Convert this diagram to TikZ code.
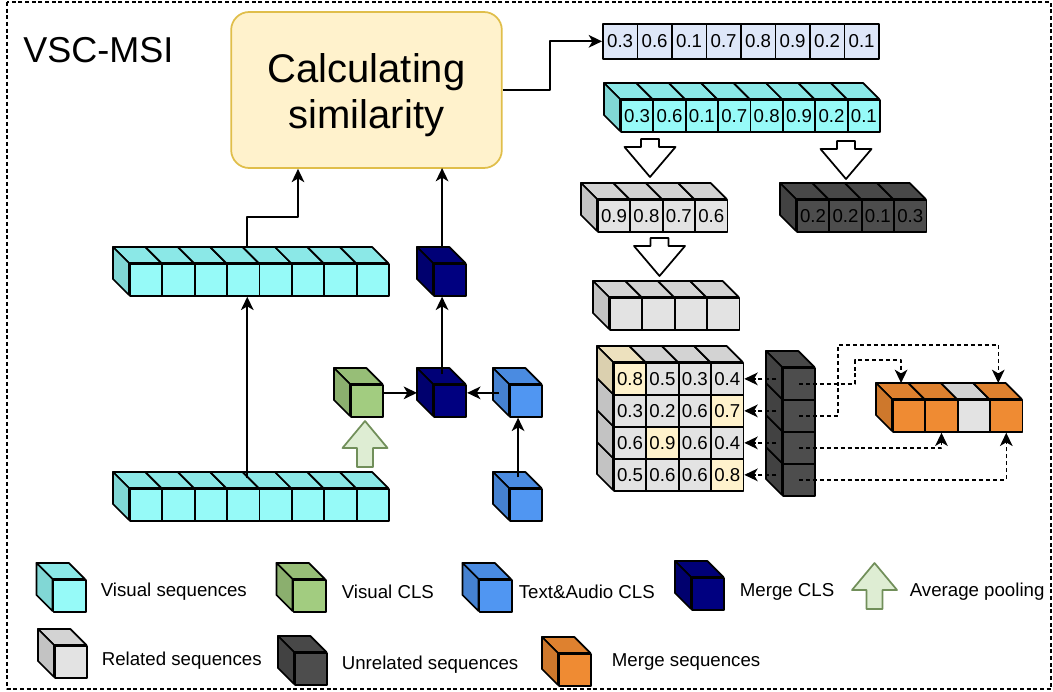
\documentclass[tikz,border=0pt]{standalone}
\usepackage{fontspec}
\setmainfont{Liberation Sans}
\usetikzlibrary{arrows.meta}

\definecolor{cy}{HTML}{96FAF8}
\definecolor{gr}{HTML}{A2CC80}
\definecolor{bl}{HTML}{5096F2}
\definecolor{nv}{HTML}{000080}
\definecolor{lg}{HTML}{E3E3E3}
\definecolor{dk}{HTML}{4D4D4D}
\definecolor{og}{HTML}{EF8B33}
\definecolor{yl}{HTML}{FFF2CC}
\definecolor{tv}{HTML}{DEE7F8}

% one cube, front face at (x,y)
\newcommand\onecube[4]{%
  \filldraw[fill=#4!93!black] (#2,#3) -- ++(-16,-16) -- ++(32.4,0) -- ++(16,16) -- cycle;
  \filldraw[fill=#4!86!black] (#2,#3) -- ++(-16,-16) -- ++(0,32) -- ++(16,16) -- cycle;
  \node[cell,fill=#4] (#1) at (#2,#3) {};
}
% a row of cubes, list of colour/text
\newcommand\cuberow[4]{%
  \foreach \cl/\tx [count=\i] in {#4}
    \filldraw[fill=\cl!93!black] ({#2+(\i-1)*32.4},#3) -- ++(-16,-16) -- ++(32.4,0) -- ++(16,16) -- cycle;
  \foreach \cl/\tx [count=\i] in {#4}{
    \ifnum\i=1 \filldraw[fill=\cl!86!black] (#2,#3) -- ++(-16,-16) -- ++(0,32) -- ++(16,16) -- cycle;\fi
    \node[cell,fill=\cl] (#1\i) at ({#2+(\i-1)*32.4},#3) {\tx};
  }
}
\newcommand\dnarrow[2]{%
  \filldraw[fill=white] (#1-9,#2) -- ++(18,0) -- ++(0,8) -- ++(16.5,0) -- (#1,#2+38)
    -- (#1-25.5,#2+8) -- ++(16.5,0) -- cycle;
}
\newcommand\poolarrow[2]{%
  \filldraw[pool] (#1-8,#2) -- ++(0,-19) -- ++(-14.5,0) -- (#1,#2-46) -- (#1+22.5,#2-19)
    -- ++(-14.5,0) -- ++(0,19) -- cycle;
}

\begin{document}
\begin{tikzpicture}[x=0.75pt,y=-0.75pt,line width=1.3pt,line join=round,
    cell/.style={draw,anchor=north west,minimum width=24.3pt,minimum height=24pt,
      inner sep=0pt,font=\fontsize{14}{16}\selectfont},
    vcell/.style={cell,fill=tv,minimum width=25.9pt,minimum height=26.2pt},
    arr/.style={line width=1.35pt,-{Stealth[length=10pt,width=9.5pt,inset=2.8pt]}},
    darr/.style={arr,line width=1.1pt,dash pattern=on 3pt off 2.2pt},
    pool/.style={fill=gr!35!white,draw=gr!70!black},
    legend/.style={anchor=west,inner sep=0pt,font=\fontsize{14}{17}\selectfont}]
  \useasboundingbox (0,0) rectangle (1053,692);
  \draw[line width=0.8pt,dash pattern=on 3pt off 2pt] (7,2) rectangle (1051,689);
  \node[anchor=base west,font=\fontsize{27}{30}\selectfont] (title) at (18,63) {VSC-MSI};

  % similarity
  \node[draw=yl!30!brown!70!yellow,fill=yl,rounded corners=13.5pt,minimum width=203pt,minimum height=117pt,
    align=center,font=\fontsize{30}{34.5}\selectfont] (calc) at (366.5,90) {\rule{0pt}{28.8pt}Calculating\\similarity};
  \foreach \v [count=\i] in {0.3,0.6,0.1,0.7,0.8,0.9,0.2,0.1}
    \node[vcell] (tv\i) at ({602+(\i-1)*34.5},23) {\v};
  \cuberow{sv}{620}{99}{cy/0.3,cy/0.6,cy/0.1,cy/0.7,cy/0.8,cy/0.9,cy/0.2,cy/0.1}
  \dnarrow{650}{139}
  \dnarrow{846}{141}
  \cuberow{rs}{597}{199}{lg/0.9,lg/0.8,lg/0.7,lg/0.6}
  \cuberow{us}{796}{199}{dk/0.2,dk/0.2,dk/0.1,dk/0.3}
  \dnarrow{659.5}{238}
  \cuberow{rp}{609}{297}{lg/{},lg/{},lg/{},lg/{}}

  % matrix, bottom row first
  \cuberow{m4}{613}{458}{lg/0.5,lg/0.6,lg/0.6,yl/0.8}
  \cuberow{m3}{613}{426}{lg/0.6,yl/0.9,lg/0.6,lg/0.4}
  \cuberow{m2}{613}{394}{lg/0.3,lg/0.2,lg/0.6,yl/0.7}
  \cuberow{m1}{613}{362}{yl/0.8,lg/0.5,lg/0.3,lg/0.4}
  \onecube{un4}{782}{463}{dk}
  \onecube{un3}{782}{431}{dk}
  \onecube{un2}{782}{399}{dk}
  \onecube{un1}{782}{367}{dk}
  \cuberow{ms}{892}{399}{og/{},og/{},lg/{},og/{}}

  % visual side
  \cuberow{vt}{129}{263}{cy/{},cy/{},cy/{},cy/{},cy/{},cy/{},cy/{},cy/{}}
  \cuberow{vb}{129}{488}{cy/{},cy/{},cy/{},cy/{},cy/{},cy/{},cy/{},cy/{}}
  \onecube{vcls}{350}{384}{gr}
  \onecube{mmid}{433}{384}{nv}
  \onecube{mtop}{433}{263}{nv}
  \onecube{tcls}{509}{384}{bl}
  \onecube{tbot}{509}{488}{bl}
  \poolarrow{365}{467}

  \draw[arr] (calc.east) -- ++(47,0) |- (tv1.west);
  \draw[arr] ([shift={(4,-10)}]vb4.north) -- ([shift={(4,0)}]vt4.south);
  \draw[arr] ([shift={(4,-16)}]vt4.north) -- ++(0,-30) -| ([shift={(-68.5,0)}]calc.south);
  \draw[arr] ([shift={(-8,-16)}]mtop.north) -- ++(0,-79);
  \draw[arr] ([shift={(-8,-10)}]mmid.north) -- ([shift={(-8,0)}]mtop.south);
  \draw[arr] ([shift={(0,-8)}]vcls.east) -- ([shift={(-16,-8)}]mmid.west);
  \draw[arr] ([shift={(-10,-8)}]tcls.west) -- ([shift={(0,-8)}]mmid.east);
  \draw[arr] ([shift={(-8,-11)}]tbot.north) -- ([shift={(-8,0)}]tcls.south);

  \foreach \r in {1,...,4}
    \draw[darr] ([shift={(32,0)}]m\r4.east) -- (m\r4.east);
  \draw[darr] (un1.center) -- ++(56,0) -- ++(0,-24) -| ([shift={(-8,-16)}]ms1.north);
  \draw[darr] (un2.center) -- ++(39,0) -- ++(0,-71) -| ([shift={(-8,-16)}]ms4.north);
  \draw[darr] (un3.center) -| (ms2.south);
  \draw[darr] (un4.center) -| (ms4.south);

  % legend
  \onecube{lcy}{52.5}{579}{cy}
  \onecube{lgr}{292.5}{579}{gr}
  \onecube{lbl}{478.5}{579}{bl}
  \onecube{lnv}{691}{577}{nv}
  \poolarrow{874.5}{609}
  \onecube{llg}{54}{645}{lg}
  \onecube{ldk}{294}{652}{dk}
  \onecube{log}{558}{653}{og}
  \node[legend] (tcy) at (100,592) {Visual sequences};
  \node[legend] (tgr) at (341,592) {Visual CLS};
  \node[legend] (tbl) at (518,592) {Text\&Audio CLS};
  \node[legend] (tnv) at (739,592) {Merge CLS};
  \node[legend] (tpool) at (909,592) {Average pooling};
  \node[legend] (tlg) at (101,661) {Related sequences};
  \node[legend] (tdk) at (341,665) {Unrelated sequences};
  \node[legend] (tog) at (611,662) {Merge sequences};
\end{tikzpicture}
\end{document}
